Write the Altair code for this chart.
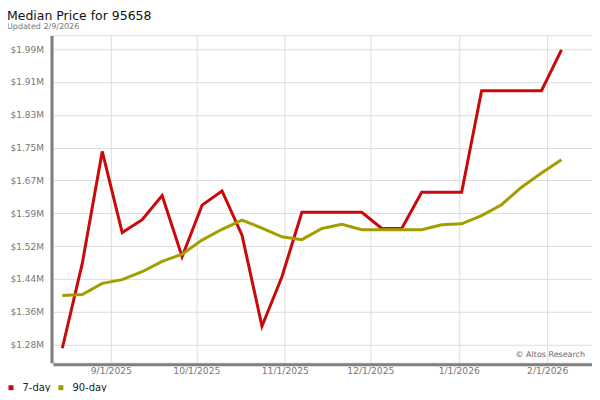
import altair as alt
import pandas as pd

TITLE = "Median Price for 95658"
SUBTITLE = "Updated 2/9/2026"
WATERMARK = "© Altos Research"

DATES = [
    "2025-08-15T00:00", "2025-08-22T00:00", "2025-08-29T00:00", "2025-09-05T00:00",
    "2025-09-12T00:00", "2025-09-19T00:00", "2025-09-26T00:00", "2025-10-03T00:00",
    "2025-10-10T00:00", "2025-10-17T00:00", "2025-10-24T00:00", "2025-10-31T00:00",
    "2025-11-07T00:00", "2025-11-14T00:00", "2025-11-21T00:00", "2025-11-28T00:00",
    "2025-12-05T00:00", "2025-12-12T00:00", "2025-12-19T00:00", "2025-12-26T00:00",
    "2026-01-02T00:00", "2026-01-09T00:00", "2026-01-16T00:00", "2026-01-23T00:00",
    "2026-01-30T00:00", "2026-02-06T00:00",
]

SEVEN_DAY = [
    1.271, 1.475, 1.744, 1.549, 1.580, 1.638, 1.491, 1.615, 1.649, 1.543,
    1.324, 1.443, 1.598, 1.598, 1.598, 1.598, 1.559, 1.559, 1.646, 1.646,
    1.646, 1.890, 1.890, 1.890, 1.890, 1.988,
]

NINETY_DAY = [
    1.398, 1.400, 1.427, 1.436, 1.455, 1.480, 1.497, 1.531, 1.557, 1.579,
    1.560, 1.539, 1.532, 1.559, 1.569, 1.556, 1.556, 1.556, 1.556, 1.568,
    1.570, 1.590, 1.616, 1.658, 1.692, 1.724,
]

SERIES = ["7-day", "90-day"]
COLORS = ["#c80a0a", "#a39e00"]

Y_TICKS = [1.28, 1.3589, 1.4378, 1.5167, 1.5956, 1.6744, 1.7533, 1.8322, 1.9111, 1.99]
Y_LABELS = ["$1.28M", "$1.36M", "$1.44M", "$1.52M", "$1.59M",
            "$1.67M", "$1.75M", "$1.83M", "$1.91M", "$1.99M"]

X_TICKS = [(2025, 9), (2025, 10), (2025, 11), (2025, 12), (2026, 1), (2026, 2)]

FONT = "DejaVu Sans"

df = pd.DataFrame({
    "date": DATES * 2,
    "value": SEVEN_DAY + NINETY_DAY,
    "series": [SERIES[0]] * len(DATES) + [SERIES[1]] * len(DATES),
})

label_array = "[" + ",".join("'" + s + "'" for s in Y_LABELS) + "]"
step = (Y_TICKS[-1] - Y_TICKS[0]) / (len(Y_TICKS) - 1)
y_label_expr = f"{label_array}[round((datum.value - {Y_TICKS[0]}) / {step})]"

x_values = [alt.DateTime(year=y, month=m, date=1) for y, m in X_TICKS]

lines = alt.Chart(df).mark_line(strokeWidth=3, interpolate="linear").encode(
    x=alt.X(
        "date:T",
        title=None,
        scale=alt.Scale(domain=[
            alt.DateTime(year=2025, month=8, date=11, hours=17),
            alt.DateTime(year=2026, month=2, date=16, hours=17),
        ]),
        axis=alt.Axis(
            values=x_values,
            format="%-m/%-d/%Y",
            ticks=False,
            domainColor="#808080",
            domainWidth=3,
            offset=1.5,
            labelPadding=2.5,
            labelFontSize=9.2,
            labelFont=FONT,
            labelColor="#777777",
            grid=True,
            gridColor="#dddddd",
            gridWidth=1,
            labelFlush=False,
        ),
    ),
    y=alt.Y(
        "value:Q",
        title=None,
        scale=alt.Scale(domain=[1.2363, 2.0232], nice=False, zero=False),
        axis=alt.Axis(
            values=Y_TICKS,
            labelExpr=y_label_expr,
            ticks=False,
            domainColor="#808080",
            domainWidth=3,
            offset=1.5,
            labelPadding=8,
            labelFontSize=9,
            labelFont=FONT,
            labelColor="#777777",
            grid=True,
            gridColor="#dddddd",
            gridWidth=1,
        ),
    ),
    color=alt.Color(
        "series:N",
        scale=alt.Scale(domain=SERIES, range=COLORS),
        legend=alt.Legend(
            title=None,
            orient="none",
            legendX=-47,
            legendY=348,
            direction="horizontal",
            symbolType="square",
            symbolSize=4,
            symbolStrokeWidth=3,
            labelFontSize=10,
            labelFont=FONT,
            labelColor="#222222",
            labelOffset=6.5,
            columnPadding=3,
            padding=0,
        ),
    ),
)

mark = alt.Chart(pd.DataFrame({"t": [WATERMARK]})).mark_text(
    align="right", baseline="alphabetic", font=FONT, fontSize=8, color="#666666"
).encode(text="t:N", x=alt.value(533), y=alt.value(322))

chart = alt.layer(lines, mark).properties(
    width=540,
    height=328,
    padding={"left": 45, "top": 27, "right": 0, "bottom": 29},
    autosize=alt.AutoSizeParams(type="none"),
    title=alt.Title(
        text=TITLE,
        subtitle=SUBTITLE,
        anchor="start",
        frame="group",
        dx=-46,
        offset=4.5,
        font=FONT,
        fontSize=12.5,
        fontWeight="normal",
        color="#111111",
        subtitleFont=FONT,
        subtitleFontSize=8,
        subtitleColor="#777777",
        subtitlePadding=0.5,
    ),
).configure_view(stroke="#dddddd", strokeWidth=1)

chart.save("out.html", embed_options={"renderer": "svg", "actions": False})
